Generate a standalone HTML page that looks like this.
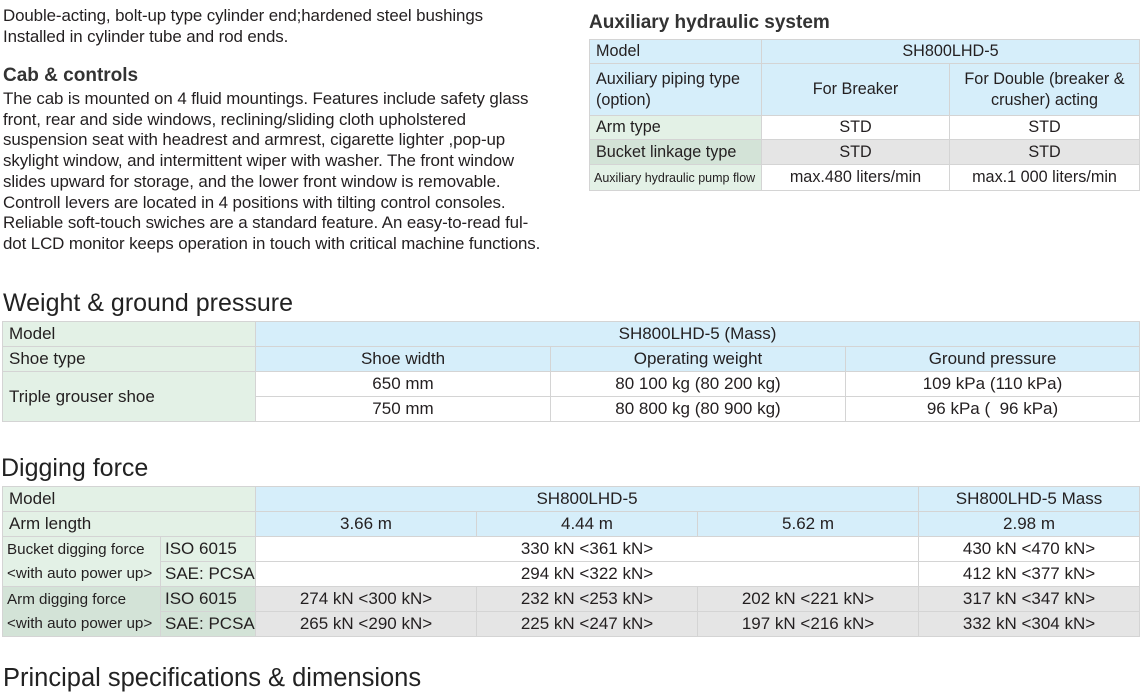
<!DOCTYPE html>
<html><head><meta charset="utf-8"><style>
body{margin:0;width:1140px;height:695px;background:#fff;position:relative;overflow:hidden;font-family:"Liberation Sans",sans-serif;color:#231f20}
.p{font-size:16.9px;line-height:20.7px;position:absolute;left:3px;white-space:nowrap;letter-spacing:-0.1px}
h2{position:absolute;margin:0;font-weight:normal;white-space:nowrap}
table{position:absolute;border-collapse:collapse;table-layout:fixed;font-size:16.2px}
td{border:1px solid #d4d4d4;padding:0 6px;text-align:center;white-space:nowrap;overflow:hidden}
td.l{text-align:left}
.g{background:#e3f1e6}.b{background:#d6eefa}.gr{background:#e5e5e5}.dg{background:#d3e3d7}
</style></head><body>
<div class="p" style="top:6px">Double-acting, bolt-up type cylinder end;hardened steel bushings<br>Installed in cylinder tube and rod ends.</div>
<h2 style="left:3px;top:65px;font-size:19px;font-weight:bold;color:#333">Cab &amp; controls</h2>
<div class="p" style="top:89px">The cab is mounted on 4 fluid mountings. Features include safety glass<br>front, rear and side windows, reclining/sliding cloth upholstered<br>suspension seat with headrest and armrest, cigarette lighter ,pop-up<br>skylight window, and intermittent wiper with washer. The front window<br>slides upward for storage, and the lower front window is removable.<br>Controll levers are located in 4 positions with tilting control consoles.<br>Reliable soft-touch swiches are a standard feature. An easy-to-read ful-<br>dot LCD monitor keeps operation in touch with critical machine functions.</div>

<h2 style="left:589px;top:12px;font-size:19px;font-weight:bold;color:#333">Auxiliary hydraulic system</h2>
<table style="left:589px;top:39px;width:550px">
<col style="width:172px"><col style="width:188px"><col style="width:190px">
<tr style="height:24px"><td class="l b">Model</td><td class="b" colspan="2">SH800LHD-5</td></tr>
<tr style="height:52px"><td class="l b" style="line-height:21px">Auxiliary piping type<br>(option)</td><td class="b">For Breaker</td><td class="b" style="line-height:21px">For Double (breaker &amp;<br>crusher) acting</td></tr>
<tr style="height:24px"><td class="l g">Arm type</td><td>STD</td><td>STD</td></tr>
<tr style="height:25px"><td class="l dg">Bucket linkage type</td><td class="gr">STD</td><td class="gr">STD</td></tr>
<tr style="height:26px"><td class="l g" style="font-size:12.5px;padding:0 4px">Auxiliary hydraulic pump flow</td><td>max.480 liters/min</td><td>max.1 000 liters/min</td></tr>
</table>

<h2 style="left:3px;top:289px;font-size:25px;color:#222">Weight &amp; ground pressure</h2>
<table style="left:2px;top:321px;width:1137px;font-size:17px">
<col style="width:253px"><col style="width:295px"><col style="width:295px"><col style="width:294px">
<tr style="height:25px"><td class="l g">Model</td><td class="b" colspan="3">SH800LHD-5 (Mass)</td></tr>
<tr style="height:25px"><td class="l g">Shoe type</td><td class="b">Shoe width</td><td class="b">Operating weight</td><td class="b">Ground pressure</td></tr>
<tr style="height:25px"><td class="l g" rowspan="2">Triple grouser shoe</td><td>650 mm</td><td>80 100 kg (80 200 kg)</td><td>109 kPa (110 kPa)</td></tr>
<tr style="height:25px"><td>750 mm</td><td>80 800 kg (80 900 kg)</td><td>96 kPa (&nbsp; 96 kPa)</td></tr>
</table>

<h2 style="left:1px;top:454px;font-size:25px;color:#222">Digging force</h2>
<table style="left:2px;top:486px;width:1137px;font-size:17px">
<col style="width:158px"><col style="width:95px"><col style="width:221px"><col style="width:221px"><col style="width:221px"><col style="width:221px">
<tr style="height:25px"><td class="l g" colspan="2">Model</td><td class="b" colspan="3">SH800LHD-5</td><td class="b">SH800LHD-5 Mass</td></tr>
<tr style="height:25px"><td class="l g" colspan="2">Arm length</td><td class="b">3.66 m</td><td class="b">4.44 m</td><td class="b">5.62 m</td><td class="b">2.98 m</td></tr>
<tr style="height:25px"><td class="l g" rowspan="2" style="font-size:15.2px;line-height:24px;padding:0 4px">Bucket digging force<br>&lt;with auto power up&gt;</td><td class="l g" style="padding:0 4px">ISO 6015</td><td colspan="3">330 kN &lt;361 kN&gt;</td><td>430 kN &lt;470 kN&gt;</td></tr>
<tr style="height:25px"><td class="l g" style="padding:0 4px">SAE: PCSA</td><td colspan="3">294 kN &lt;322 kN&gt;</td><td>412 kN &lt;377 kN&gt;</td></tr>
<tr style="height:25px"><td class="l dg" rowspan="2" style="font-size:15.2px;line-height:24px;padding:0 4px">Arm digging force<br>&lt;with auto power up&gt;</td><td class="l dg" style="padding:0 4px">ISO 6015</td><td class="gr">274 kN &lt;300 kN&gt;</td><td class="gr">232 kN &lt;253 kN&gt;</td><td class="gr">202 kN &lt;221 kN&gt;</td><td class="gr">317 kN &lt;347 kN&gt;</td></tr>
<tr style="height:25px"><td class="l dg" style="padding:0 4px">SAE: PCSA</td><td class="gr">265 kN &lt;290 kN&gt;</td><td class="gr">225 kN &lt;247 kN&gt;</td><td class="gr">197 kN &lt;216 kN&gt;</td><td class="gr">332 kN &lt;304 kN&gt;</td></tr>
</table>

<h2 style="left:3px;top:664px;font-size:25.5px;color:#222">Principal specifications &amp; dimensions</h2>
</body></html>
